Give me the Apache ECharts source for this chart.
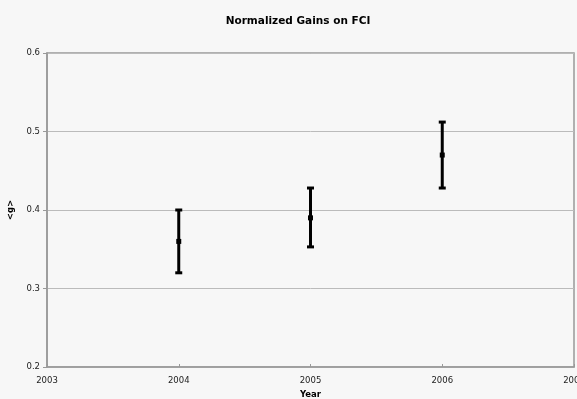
<!DOCTYPE html>
<html><head><meta charset="utf-8">
<script src="https://cdn.jsdelivr.net/npm/echarts@6/dist/echarts.min.js"></script>
<style>html,body{margin:0;padding:0;background:#f7f7f7}#c{width:577px;height:399px}</style>
</head><body><div id="c"></div>
<script>
var years = [2004, 2005, 2006];
var means = [0.36, 0.39, 0.47];
var lows  = [0.32, 0.353, 0.428];
var highs = [0.40, 0.428, 0.512];

var chart = echarts.init(document.getElementById('c'));
var data = years.map(function(y,i){return [y, means[i], lows[i], highs[i]];});
var font = 'DejaVu Sans';
chart.setOption({
  backgroundColor: '#f7f7f7',
  animation: false,
  title: {text: 'Normalized Gains on FCI', left: 293, top: 11, textAlign: 'center',
    textStyle: {fontFamily: font, fontSize: 10.5, fontWeight: 'bold', color: '#000'}},
  grid: {left: 47, right: 3, top: 53, bottom: 32, containLabel: false, outerBoundsMode: 'none',
    show: true, borderColor: '#999', borderWidth: 1.5, backgroundColor: '#f7f7f7'},
  xAxis: {type: 'value', min: 2003, max: 2007, interval: 1,
    name: 'Year', nameLocation: 'middle', nameGap: 20,
    nameTextStyle: {fontFamily: font, fontSize: 8.5, fontWeight: 'bold', color: '#000'},
    axisLine: {show: true, lineStyle: {color: '#999', width: 1.5}},
    axisTick: {show: true, inside: true, length: 3, lineStyle: {color: '#999'}},
    splitLine: {show: false},
    axisLabel: {fontFamily: font, fontSize: 8.5, color: '#222', margin: 9, formatter: function(v){return String(v);}}},
  yAxis: {type: 'value', min: 0.2, max: 0.6, interval: 0.1,
    name: '<g>', nameLocation: 'middle', nameGap: 28, nameRotate: 90,
    nameTextStyle: {fontFamily: font, fontSize: 8.5, fontWeight: 'bold', color: '#000'},
    axisLine: {show: true, lineStyle: {color: '#999', width: 1.5}},
    axisTick: {show: true, length: 4, lineStyle: {color: '#999'}},
    splitLine: {show: true, lineStyle: {color: '#bbb', width: 1}},
    axisLabel: {fontFamily: font, fontSize: 8.5, color: '#222', margin: 7, formatter: function(v){return v.toFixed(1);}}},
  series: [{
    type: 'custom',
    data: data,
    encode: {x: 0, y: [1,2,3]},
    renderItem: function(params, api){
      var x = api.value(0);
      var c = api.coord([x, api.value(1)]);
      var lo = api.coord([x, api.value(2)]);
      var hi = api.coord([x, api.value(3)]);
      var hw = 3.5;
      var st = {stroke: '#000', lineWidth: 3};
      return {type: 'group', children: [
        {type: 'line', shape: {x1: lo[0], y1: lo[1], x2: hi[0], y2: hi[1]}, style: st},
        {type: 'line', shape: {x1: lo[0]-hw, y1: lo[1], x2: lo[0]+hw, y2: lo[1]}, style: st},
        {type: 'line', shape: {x1: hi[0]-hw, y1: hi[1], x2: hi[0]+hw, y2: hi[1]}, style: st},
        {type: 'rect', shape: {x: c[0]-2.5, y: c[1]-2.5, width: 5, height: 5}, style: {fill: '#000'}}
      ]};
    }
  }]
});
</script></body></html>
